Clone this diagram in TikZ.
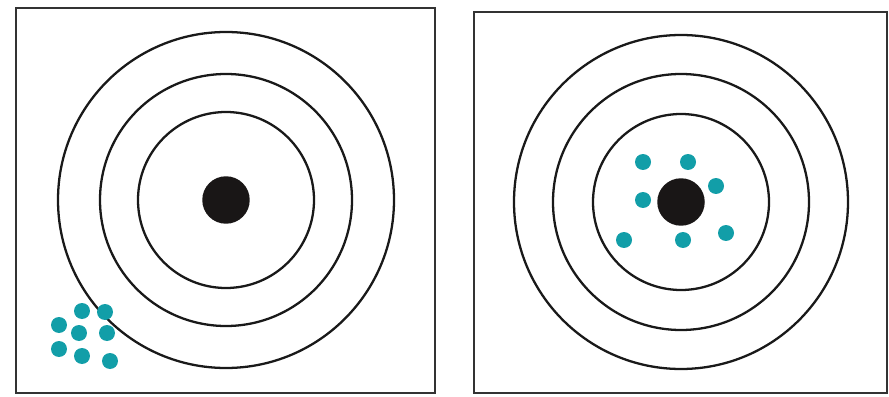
\documentclass[tikz,border=0pt]{standalone}
\usepackage{xcolor}
\usetikzlibrary{positioning}
\definecolor{shotteal}{RGB}{18,158,168}
\definecolor{eyeblack}{RGB}{25,22,22}

\begin{document}
\begin{tikzpicture}[x=0.02cm, y=0.02cm,
  frame/.style={draw=black!80, line width=1.4pt},
  ring/.style={draw=black!90, line width=1.3pt},
  eye/.style={fill=eyeblack, circle, inner sep=0pt, minimum size=0.95cm},
  shot/.style={fill=shotteal, circle, inner sep=0pt, minimum size=0.32cm}]
\useasboundingbox (0,0) rectangle (889,396);
% left target
\draw[frame] (16,3) rectangle (435,388);
\coordinate (lc) at (226,196);
\draw[ring] (lc) circle (168);
\draw[ring] (lc) circle (126);
\draw[ring] (lc) circle (88);
\node[eye] (leye) at (lc) {};
\node[shot] (l1) at (82,85) {};
\node[shot] (l2) at (105,84) {};
\node[shot] (l3) at (59,71) {};
\node[shot] (l4) at (79,63) {};
\node[shot] (l5) at (107,63) {};
\node[shot] (l6) at (59,47) {};
\node[shot] (l7) at (82,40) {};
\node[shot] (l8) at (110,35) {};
% right target
\draw[frame] (474,3) rectangle (887,384);
\coordinate (rc) at (681,194);
\draw[ring] (rc) circle (167);
\draw[ring] (rc) circle (128);
\draw[ring] (rc) circle (88);
\node[eye] (reye) at (rc) {};
\node[shot] (r1) at (643,234) {};
\node[shot] (r2) at (688,234) {};
\node[shot] (r3) at (716,210) {};
\node[shot] (r4) at (643,196) {};
\node[shot] (r5) at (624,156) {};
\node[shot] (r6) at (683,156) {};
\node[shot] (r7) at (726,163) {};
\end{tikzpicture}
\end{document}
